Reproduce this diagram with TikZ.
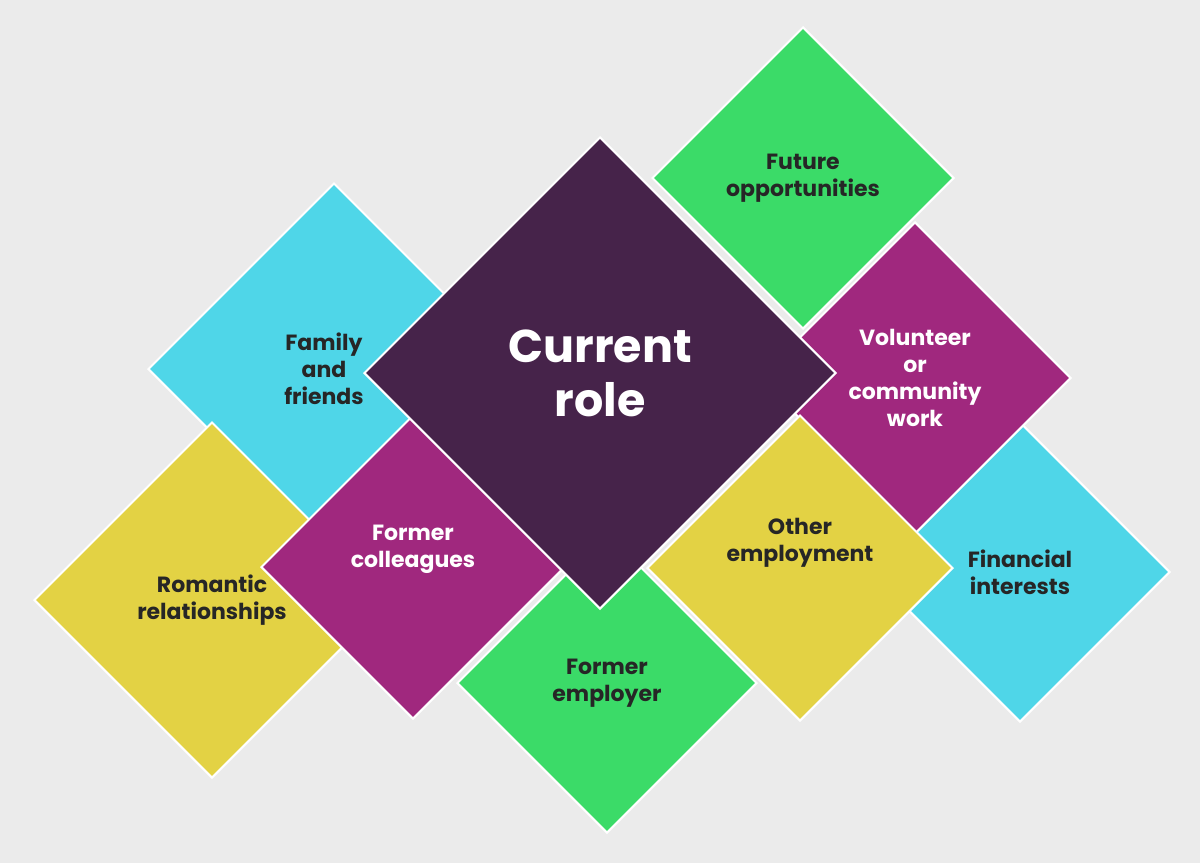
\documentclass[tikz,border=0pt]{standalone}
\usepackage{fontspec}
\setmainfont{Poppins}
\usetikzlibrary{shapes.geometric}
\definecolor{bgGrey}{HTML}{EBEBEB}
\definecolor{plum}{HTML}{46234A}
\definecolor{mint}{HTML}{3BDB68}
\definecolor{sky}{HTML}{4FD6E8}
\definecolor{mustard}{HTML}{E3D244}
\definecolor{berry}{HTML}{A0287E}
\begin{document}
\begin{tikzpicture}[
    x=1pt, y=-1pt,
    tile/.style={diamond, aspect=1, inner sep=0pt, draw=white, line width=2pt,
      align=center, font=\fontsize{22}{27}\selectfont\bfseries, text=black!85},
    light tile/.style={tile, text=white}
    ]

\fill[bgGrey] (0,0) rectangle (1200,863);
\useasboundingbox (0,0) rectangle (1200,863);

% back row first
\node (future)[tile, fill=mint, minimum size=302pt] at (803,178) {Future\\opportunities};
\node (finance)[tile, fill=sky, minimum size=300pt] at (1020,572) {Financial\\interests};
\node (volunteer)[light tile, fill=berry, minimum size=312pt] at (915,378) {Volunteer\\or\\community\\work};
\node (family)[tile, fill=sky, minimum size=372pt] at (334,369) {\hspace*{-20pt}Family\\\hspace*{-20pt}and\\\hspace*{-20pt}friends};
\node (romantic)[tile, fill=mustard, minimum size=356pt] at (212,600) {Romantic\\relationships};
\node (colleagues)[light tile, fill=berry, minimum size=304pt] at (413,567) {\raisebox{30pt}{}Former\\colleagues\\[30pt]};
\node (other)[tile, fill=mustard, minimum size=306pt] at (800,568) {Other\\employment\\[30pt]};
\node (employer)[tile, fill=mint, minimum size=300pt] at (607,683) {Former\\employer};

% centre on top
\node (current)[light tile, fill=plum, minimum size=472pt,
    font=\fontsize{46}{54}\selectfont\bfseries] at (600,373) {Current\\role};

\end{tikzpicture}
\end{document}
